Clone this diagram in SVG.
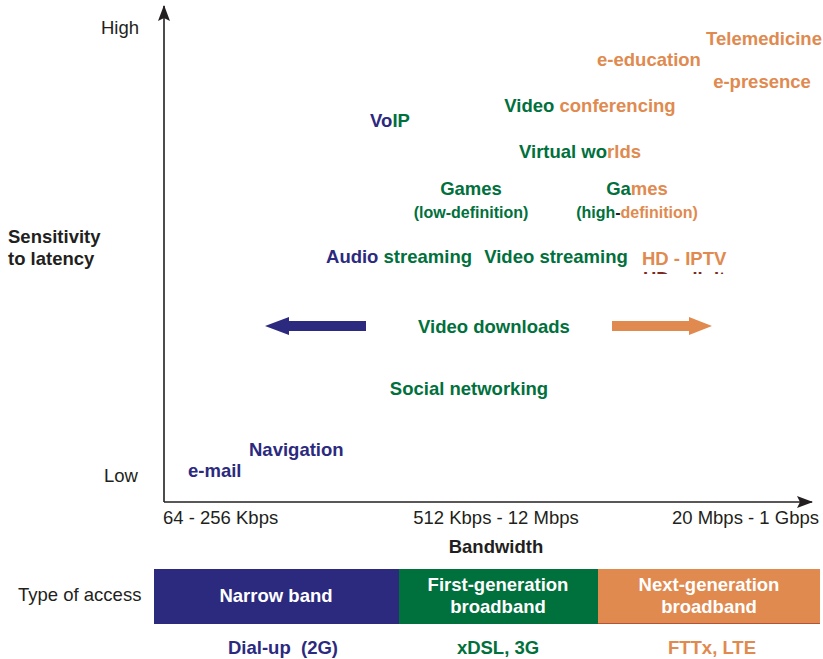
<svg xmlns="http://www.w3.org/2000/svg" width="823" height="659" viewBox="0 0 823 659">
<style>
text{font-family:"Liberation Sans",Arial,Helvetica,sans-serif;font-size:18.5px}
.b{font-weight:bold}
.ax{fill:#231F20}
.nv{fill:#2B2A7E}
.gr{fill:#00703C}
.or{fill:#E08A50}
.wh{fill:#FFFFFF;font-weight:bold}
.sm{font-size:16px}
.axis{stroke:#231F20;stroke-width:1.6;fill:none}
</style>
<defs>
<marker id="ah" viewBox="0 0 16 12" refX="15" refY="6" markerWidth="16" markerHeight="12" markerUnits="userSpaceOnUse" orient="auto">
<path d="M0,0 L16,6 L0,12 L3,6 Z" fill="#231F20"/>
</marker>
<clipPath id="clipFrag"><rect x="630" y="270" width="96" height="4"/></clipPath>
</defs>
<rect width="823" height="659" fill="#FFFFFF"/>
<g id="connectors">
<line class="axis" x1="164" y1="502" x2="164" y2="6" marker-end="url(#ah)"/>
<line class="axis" x1="164" y1="502" x2="812" y2="502" marker-end="url(#ah)"/>
<path d="M366,321 L289,321 L289,317 L265,326 L289,335 L289,331 L366,331 Z" fill="#2B2A7E"/>
<path d="M612,321 L689,321 L689,317 L712,326 L689,335 L689,331 L612,331 Z" fill="#E08A50"/>
</g>
<g id="axis-labels">
<text class="ax" x="139" y="34" text-anchor="end">High</text>
<text class="ax" x="138" y="482" text-anchor="end">Low</text>
<text class="ax b" x="8" y="243">Sensitivity</text>
<text class="ax b" x="8" y="265">to latency</text>
<text class="ax" x="163" y="524">64 - 256 Kbps</text>
<text class="ax" x="496" y="524" text-anchor="middle">512 Kbps - 12 Mbps</text>
<text class="ax" x="819" y="524" text-anchor="end">20 Mbps - 1 Gbps</text>
<text class="ax b" x="496" y="553" text-anchor="middle">Bandwidth</text>
<text class="ax" x="18" y="601">Type of access</text>
</g>
<g id="telemedicine"><text class="or b" x="764" y="45" text-anchor="middle">Telemedicine</text></g>
<g id="e-education"><text class="or b" x="649" y="66" text-anchor="middle">e-education</text></g>
<g id="e-presence"><text class="or b" x="762" y="88" text-anchor="middle">e-presence</text></g>
<g id="video-conferencing"><text class="b" x="590" y="112" text-anchor="middle"><tspan class="gr">Video </tspan><tspan class="or">conferencing</tspan></text></g>
<g id="voip"><text class="b" x="390" y="127" text-anchor="middle"><tspan class="nv">Vo</tspan><tspan class="gr">IP</tspan></text></g>
<g id="virtual-worlds"><text class="b" x="580" y="158" text-anchor="middle"><tspan class="gr">Virtual wo</tspan><tspan class="or">rlds</tspan></text></g>
<g id="games-low">
<text class="gr b" x="471" y="195" text-anchor="middle">Games</text>
<text class="gr b sm" x="471" y="218" text-anchor="middle">(low-definition)</text>
</g>
<g id="games-high">
<text class="b" x="637" y="195" text-anchor="middle"><tspan class="gr">Ga</tspan><tspan class="or">mes</tspan></text>
<text class="b sm" x="637" y="218" text-anchor="middle"><tspan class="gr">(high</tspan><tspan class="ax">-</tspan><tspan class="or">definition)</tspan></text>
</g>
<g id="audio-streaming"><text class="b" x="399" y="263" text-anchor="middle"><tspan class="nv">Audio</tspan><tspan class="gr"> streaming</tspan></text></g>
<g id="video-streaming"><text class="gr b" x="556" y="263" text-anchor="middle">Video streaming</text></g>
<g id="hd-iptv">
<text class="or b" x="642" y="265">HD - IPTV</text>
<text class="b" x="643" y="285" fill="#7A2A20" clip-path="url(#clipFrag)">HD - digital</text>
</g>
<g id="video-downloads"><text class="gr b" x="494" y="333" text-anchor="middle">Video downloads</text></g>
<g id="social-networking"><text class="gr b" x="469" y="395" text-anchor="middle">Social networking</text></g>
<g id="navigation"><text class="nv b" x="249" y="456">Navigation</text></g>
<g id="e-mail"><text class="nv b" x="188" y="477">e-mail</text></g>
<g id="narrow-band">
<rect x="154" y="569" width="245" height="55" fill="#2B2A7E"/>
<text class="wh" x="276" y="602" text-anchor="middle">Narrow band</text>
<text class="nv b" x="283" y="654" text-anchor="middle" xml:space="preserve" style="white-space:pre">Dial-up  (2G)</text>
</g>
<g id="first-generation">
<rect x="399" y="569" width="199" height="55" fill="#00703C"/>
<text class="wh" x="498" y="591" text-anchor="middle">First-generation</text>
<text class="wh" x="498" y="613" text-anchor="middle">broadband</text>
<text class="gr b" x="498" y="654" text-anchor="middle">xDSL, 3G</text>
</g>
<g id="next-generation">
<rect x="598" y="569" width="222" height="55" fill="#E08A50"/>
<line x1="598" y1="623.5" x2="820" y2="623.5" stroke="#B5523A" stroke-width="1"/>
<text class="wh" x="709" y="591" text-anchor="middle">Next-generation</text>
<text class="wh" x="709" y="613" text-anchor="middle">broadband</text>
<text class="or b" x="712" y="654" text-anchor="middle">FTTx, LTE</text>
</g>
</svg>
